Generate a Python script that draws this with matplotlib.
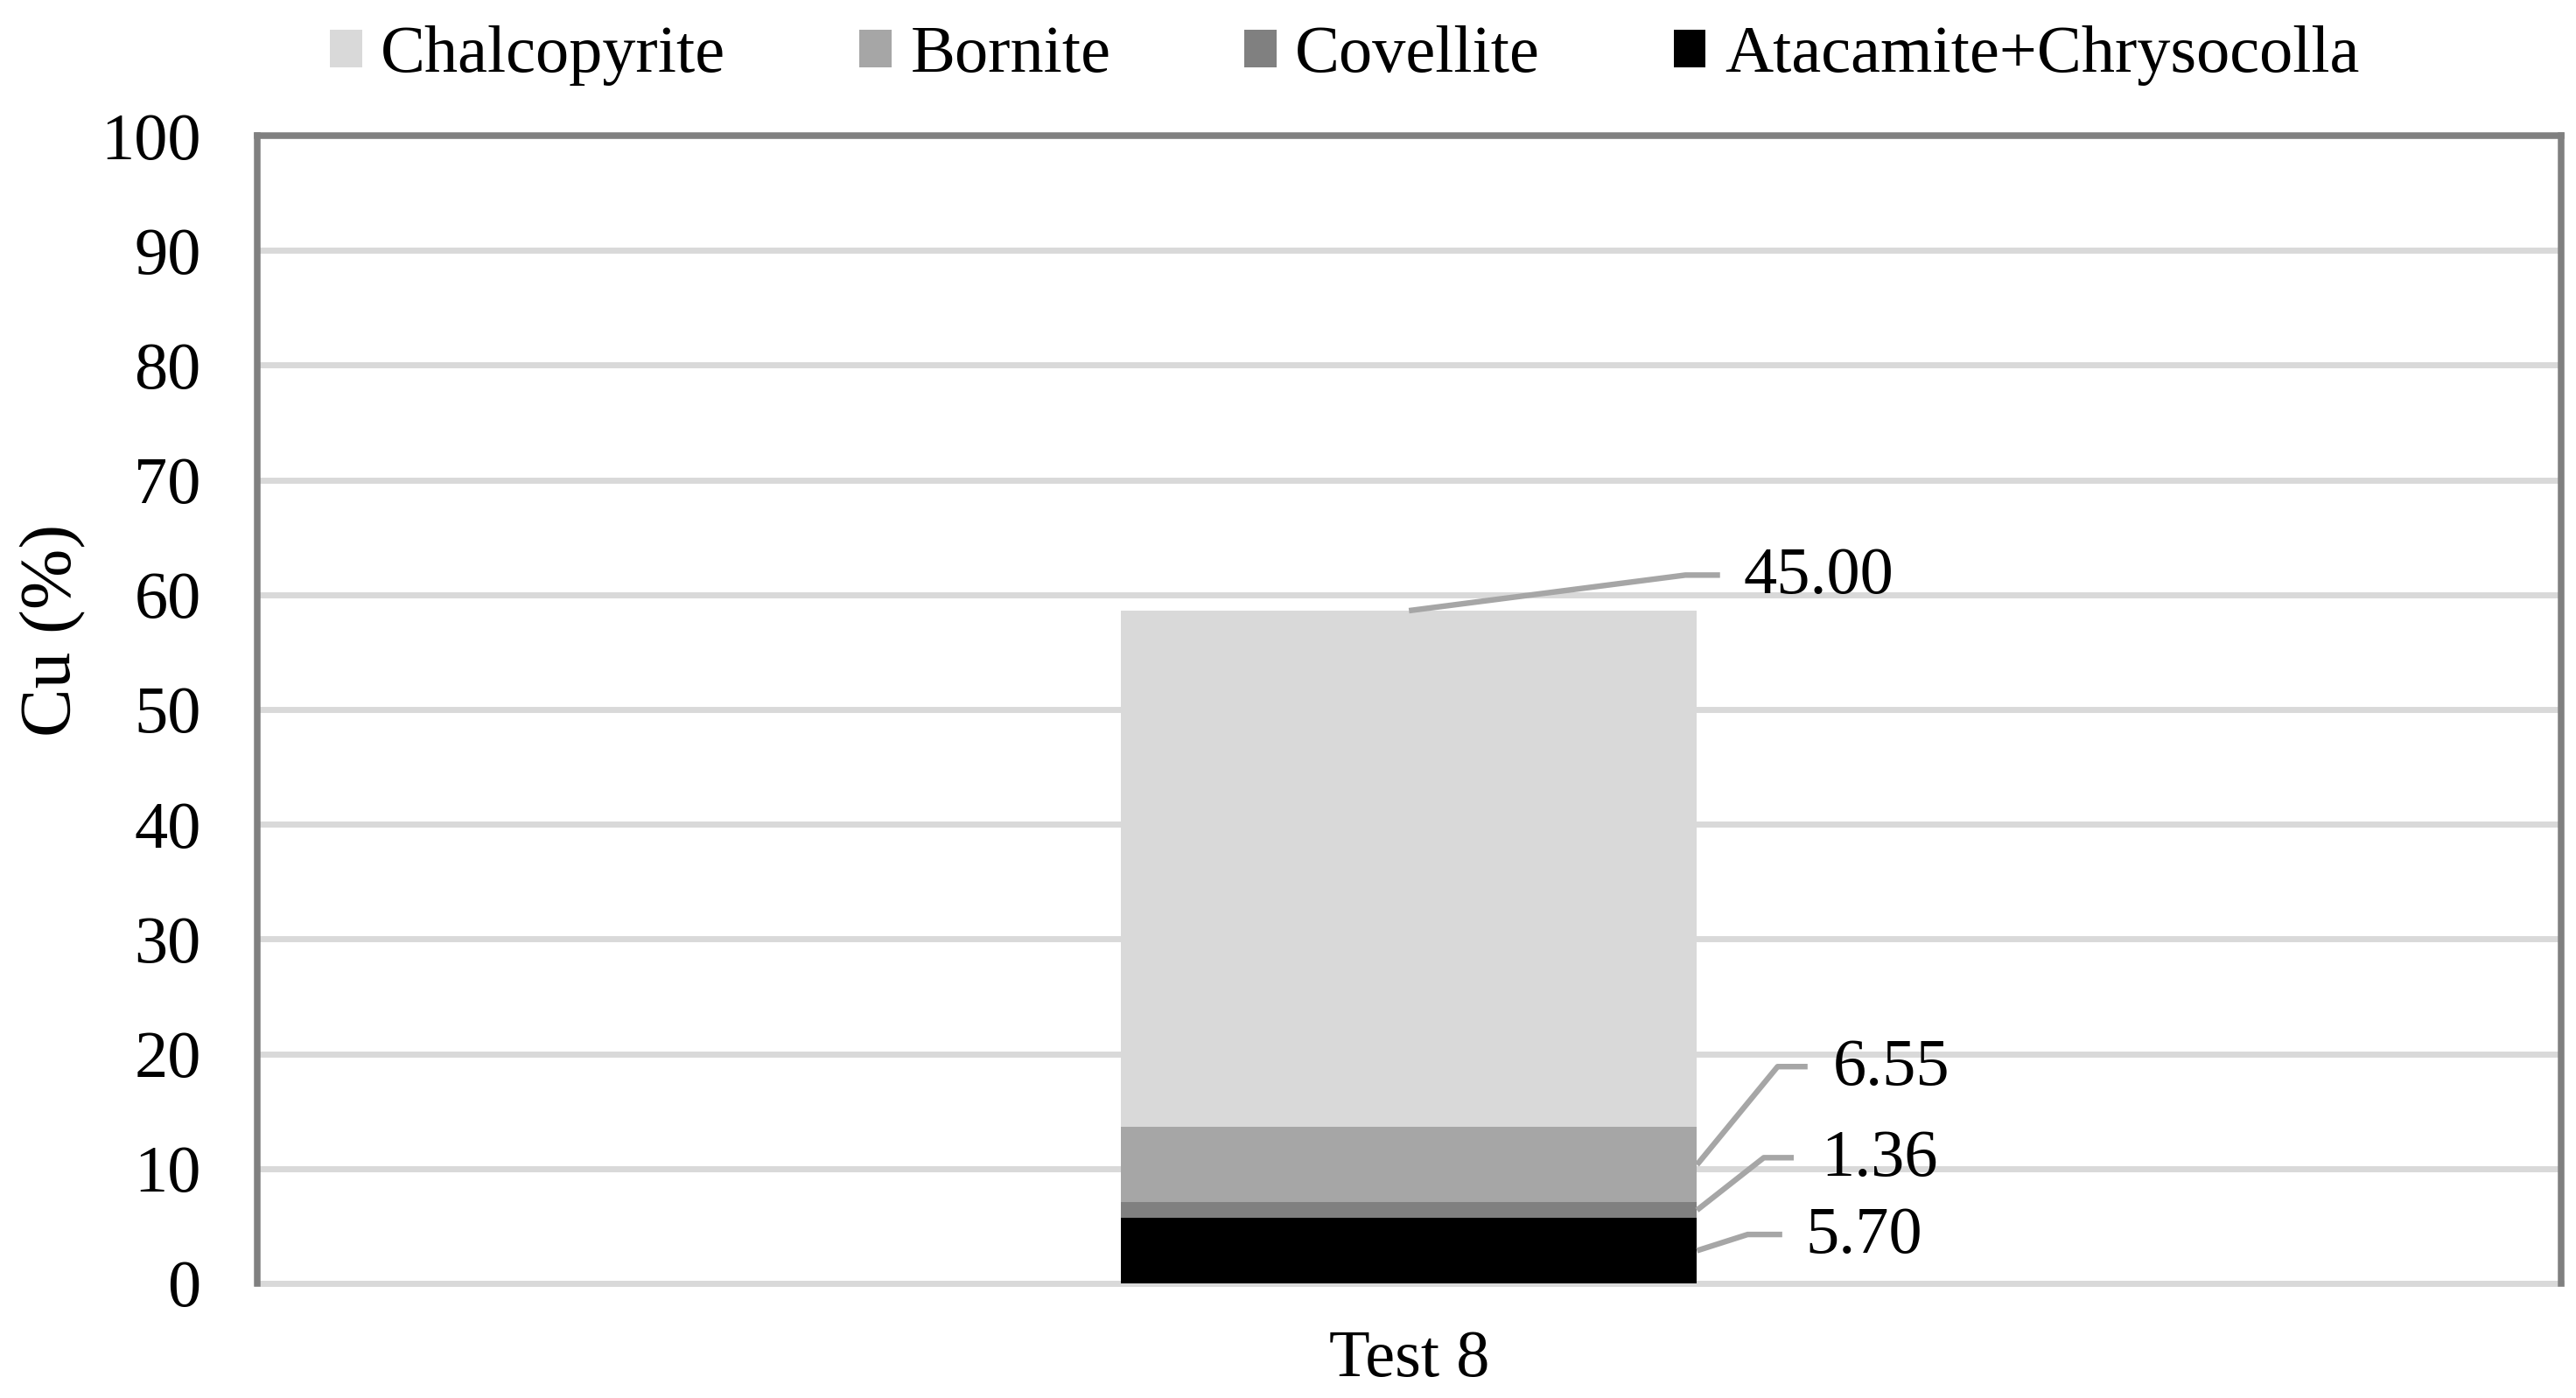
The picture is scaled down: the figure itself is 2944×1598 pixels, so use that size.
import matplotlib.pyplot as plt
from matplotlib.patches import Patch
import numpy as np

plt.rcParams['font.family'] = ['Liberation Serif', 'DejaVu Serif']

categories = ['Test 8']
minerals = ['Atacamite+Chrysocolla', 'Covellite', 'Bornite', 'Chalcopyrite']
values = [5.70, 1.36, 6.55, 45.00]
colors = ['#000000', '#808080', '#a6a6a6', '#d9d9d9']
legend_order = ['Chalcopyrite', 'Bornite', 'Covellite', 'Atacamite+Chrysocolla']
yticks = [0, 10, 20, 30, 40, 50, 60, 70, 80, 90, 100]

fig = plt.figure(figsize=(14.72, 7.99), dpi=200)
ax = fig.add_axes([0.0997, 0.0820, 0.8945, 0.8210])

bar_w = 0.25
bottom = 0
mids = []
for name, v, c in zip(minerals, values, colors):
    ax.bar(0, v, width=bar_w, bottom=bottom, color=c, zorder=1)
    mids.append(bottom + v / 2)
    bottom += v
total = bottom

ax.set_xlim(-0.5, 0.5)
ax.set_ylim(0, 100)
ax.set_xticks([0])
ax.set_xticklabels(categories, fontsize=27.5)
ax.set_yticks(yticks)
ax.set_yticklabels([str(t) for t in yticks], fontsize=27.5)
ax.tick_params(axis='y', length=0, pad=23)
ax.tick_params(axis='x', length=0, pad=19)

ax.set_axisbelow(True)
ax.yaxis.grid(True, color='#d9d9d9', linewidth=2.5)
for s in ['left', 'top', 'right']:
    ax.spines[s].set_color('#808080')
    ax.spines[s].set_linewidth(2.7)
ax.spines['bottom'].set_color('#d9d9d9')
ax.spines['bottom'].set_linewidth(2.5)
ax.spines['bottom'].set_zorder(0.5)

ax.set_ylabel('Cu (%)', fontsize=30)
ax.yaxis.set_label_coords(-0.074, 0.569)

# data labels with leader lines: anchor, knee offset (dx, dy), line end dx, text dx
labels = [
    (bar_w / 2, mids[0], 0.022, 1.41, 0.037, 0.047, values[0]),
    (bar_w / 2, mids[1], 0.029, 4.57, 0.042, 0.054, values[1]),
    (bar_w / 2, mids[2], 0.035, 8.55, 0.048, 0.059, values[2]),
    (0, total, 0.120, 3.1, 0.135, 0.145, values[3]),
]
for x0, y0, kdx, kdy, edx, tdx, v in labels:
    ax.plot([x0, x0 + kdx, x0 + edx], [y0, y0 + kdy, y0 + kdy],
            color='#a6a6a6', linewidth=2.3, solid_capstyle='butt', zorder=3)
    ax.text(x0 + tdx, y0 + kdy - 0.2, '%.2f' % v, fontsize=27.5,
            va='center', ha='left', zorder=4)

handles = [Patch(facecolor=colors[minerals.index(n)], edgecolor='none') for n in legend_order]
fig.legend(handles, legend_order, loc='center', bbox_to_anchor=(0.522, 0.960),
           ncol=4, frameon=False, fontsize=27.5, handlelength=0.48,
           handleheight=0.5, handletextpad=0.28, columnspacing=2.0,
           borderaxespad=0, borderpad=0)

fig.savefig('out.png', dpi=200)
